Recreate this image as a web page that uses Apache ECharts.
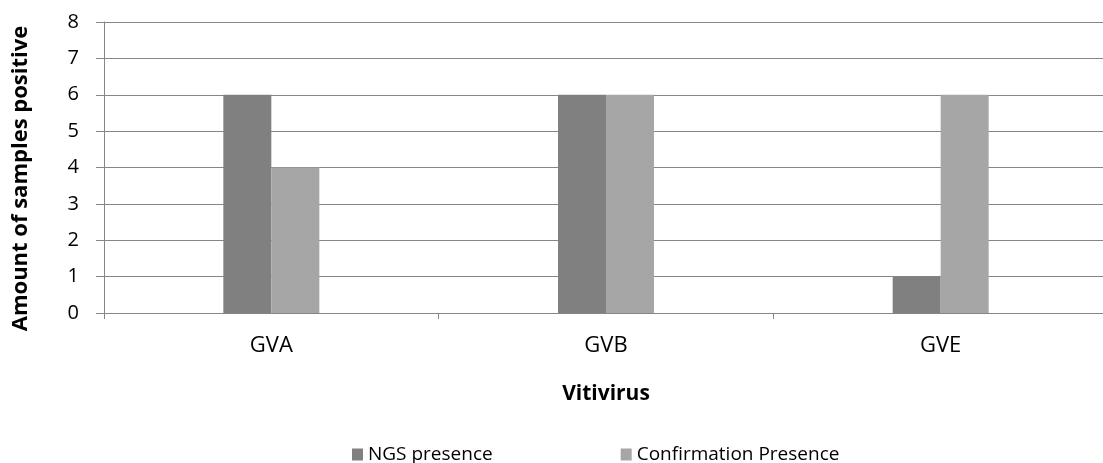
<!DOCTYPE html>
<html>
<head>
<meta charset="utf-8">
<script src="https://cdn.jsdelivr.net/npm/echarts@6/dist/echarts.min.js"></script>
<style>
  html, body { margin: 0; padding: 0; background: #ffffff; overflow: hidden; }
  /* the canvas is a few pixels wider than the window so the plot area
     runs off the right edge */
  #chart { width: 1108px; height: 463px; }
</style>
</head>
<body>
<div id="chart"></div>
<script>
// Vitivirus detection counts
const categories = ['GVA', 'GVB', 'GVE'];
const ngsPresence = [6, 6, 1];
const confirmationPresence = [4, 6, 6];
const yTicks = [0, 1, 2, 3, 4, 5, 6, 7, 8];

const FONT = '"Open Sans", "Liberation Sans", sans-serif';
const chart = echarts.init(document.getElementById('chart'));

chart.setOption({
  animation: false,
  backgroundColor: '#ffffff',
  textStyle: { fontFamily: FONT, color: '#000' },
  grid: { left: 104, right: 0, top: 22, bottom: 150, containLabel: false },
  legend: {
    top: 440,
    left: 347,
    itemWidth: 11,
    itemHeight: 12,
    itemGap: 128,
    icon: 'rect',
    textStyle: { fontFamily: FONT, fontSize: 19, color: '#000' },
    data: ['NGS presence', 'Confirmation Presence']
  },
  xAxis: {
    type: 'category',
    data: categories,
    name: 'Vitivirus',
    nameLocation: 'middle',
    nameGap: 71,
    nameTextStyle: { fontFamily: FONT, fontSize: 21, fontWeight: 'bold', color: '#000' },
    axisLine: { lineStyle: { color: '#868686', width: 1 } },
    axisTick: { show: true, length: 6, lineStyle: { color: '#868686' } },
    axisLabel: { fontFamily: FONT, fontSize: 22, color: '#000', margin: 22 }
  },
  yAxis: {
    type: 'value',
    min: yTicks[0],
    max: yTicks[yTicks.length - 1],
    interval: 1,
    name: 'Amount of samples positive',
    nameLocation: 'middle',
    nameGap: 72,
    nameTextStyle: {
      fontFamily: FONT, fontSize: 22, fontWeight: 'bold', color: '#000',
      padding: [0, 22, 0, 0]
    },
    axisLine: { show: true, lineStyle: { color: '#868686', width: 1 } },
    axisTick: { show: true, length: 8, lineStyle: { color: '#868686' } },
    axisLabel: { fontFamily: FONT, fontSize: 20, color: '#000', margin: 25 },
    splitLine: { show: true, lineStyle: { color: '#868686', width: 1 } }
  },
  series: [
    {
      name: 'NGS presence',
      type: 'bar',
      data: ngsPresence,
      barWidth: 48,
      barGap: '0%',
      itemStyle: { color: '#808080' }
    },
    {
      name: 'Confirmation Presence',
      type: 'bar',
      data: confirmationPresence,
      barWidth: 48,
      barGap: '0%',
      itemStyle: { color: '#a6a6a6' }
    }
  ]
});
</script>
</body>
</html>
